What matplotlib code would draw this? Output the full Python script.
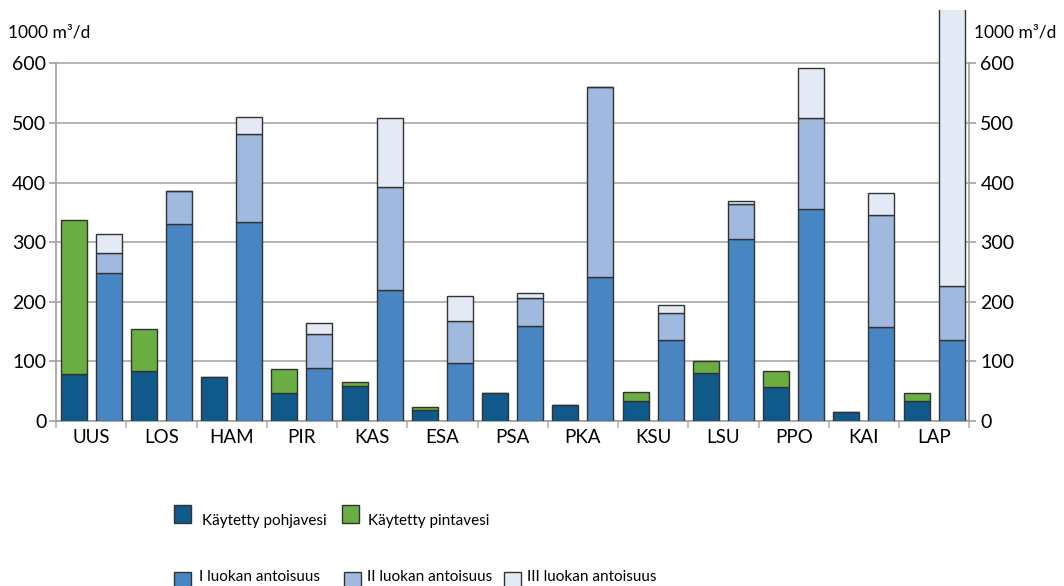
import matplotlib
matplotlib.use("Agg")
import matplotlib.pyplot as plt
from matplotlib.patches import Rectangle
import numpy as np

plt.rcParams['font.family'] = ['Lato', 'DejaVu Sans']

# Water use and groundwater yield by region, 1000 m3/d
alueet = ['UUS', 'LOS', 'HAM', 'PIR', 'KAS', 'ESA', 'PSA', 'PKA', 'KSU', 'LSU', 'PPO', 'KAI', 'LAP']
pohjavesi = [79, 84, 73, 47, 59, 18, 47, 26, 33, 81, 57, 15, 33]
pintavesi = [258, 70, 0, 41, 6, 5, 0, 0, 16, 20, 27, 0, 14]
luokka_1 = [248, 330, 333, 89, 220, 97, 159, 241, 136, 306, 356, 157, 136]
luokka_2 = [34, 55, 148, 57, 172, 70, 47, 319, 45, 58, 152, 189, 90]
luokka_3 = [32, 0, 29, 19, 116, 43, 8, 0, 13, 5, 84, 37, 500]
y_ticks = [0, 100, 200, 300, 400, 500, 600]

c_pohja = '#0f5a8b'
c_pinta = '#69ad43'
c_l1 = '#4886c3'
c_l2 = '#a0b9de'
c_l3 = '#e3e9f5'
edge = '#333333'

W, H = 1064, 586
fig = plt.figure(figsize=(W / 100, H / 100), dpi=100)
ax = fig.add_axes([56 / W, (H - 421) / H, (969.3 - 56) / W, (421 - 10.2) / H])

x = np.arange(len(alueet))
bw = 0.37
xl = x + 0.25
xr = x + 0.75
kw = dict(width=bw, edgecolor=edge, linewidth=1.0, zorder=3)

pohja = np.array(pohjavesi)
ax.bar(xl, pohja, color=c_pohja, **kw)
ax.bar(xl, pintavesi, bottom=pohja, color=c_pinta, **kw)

l1 = np.array(luokka_1)
l2 = np.array(luokka_2)
ax.bar(xr, l1, color=c_l1, **kw)
ax.bar(xr, l2, bottom=l1, color=c_l2, **kw)
ax.bar(xr, luokka_3, bottom=l1 + l2, color=c_l3, **kw)

ax.set_xlim(0, len(alueet))
ax.set_ylim(0, 689)
ax.set_yticks(y_ticks)
ax.yaxis.grid(True, color='#b4b4b4', linewidth=1.4, zorder=0)
ax.set_axisbelow(True)

for s in ['top', 'right']:
    ax.spines[s].set_visible(False)
ax.spines['left'].set_bounds(0, 600)
ax.spines['left'].set_color('#a0a0a0')
ax.spines['bottom'].set_color('#a0a0a0')
ax.spines['left'].set_linewidth(1.2)
ax.spines['bottom'].set_linewidth(1.2)

ax.set_xticks(np.arange(len(alueet) + 1))
ax.set_xticklabels([])
ax.set_xticks(x + 0.5, minor=True)
ax.set_xticklabels(alueet, minor=True, fontsize=13.5)
ax.tick_params(axis='x', which='major', length=5, color='#b4b4b4', width=1.2)
ax.tick_params(axis='x', which='minor', length=0, pad=6)
ax.tick_params(axis='y', length=5, color='#a0a0a0', width=1.2, labelsize=14, pad=2)

ax2 = ax.twinx()
ax2.set_ylim(ax.get_ylim())
ax2.set_yticks(y_ticks)
for s in ['top', 'left', 'bottom']:
    ax2.spines[s].set_visible(False)
ax2.spines['right'].set_bounds(0, 600)
ax2.spines['right'].set_color('#a0a0a0')
ax2.spines['right'].set_linewidth(1.2)
ax2.tick_params(axis='y', length=5, color='#a0a0a0', width=1.2, labelsize=14, pad=3)

fig.text(8 / W, 1 - 32 / H, '1000 m³/d', fontsize=12.5, va='center', ha='left')
fig.text(974 / W, 1 - 32 / H, '1000 m³/d', fontsize=12.5, va='center', ha='left')

# legend: (square left, label, colour, text left) per entry
legend_rows = [
    [(174, 'Käytetty pohjavesi', c_pohja, 202), (342, 'Käytetty pintavesi', c_pinta, 368)],
    [(174, 'I luokan antoisuus', c_l1, 199), (344, 'II luokan antoisuus', c_l2, 367),
     (504, 'III luokan antoisuus', c_l3, 527)],
]
square_top = [505, 572]
text_base = [524.5, 581]
for row, st, tb in zip(legend_rows, square_top, text_base):
    for xs, label, col, xt in row:
        fig.patches.append(Rectangle((xs / W, 1 - (st + 18) / H), 17 / W, 18 / H,
                                     transform=fig.transFigure, facecolor=col,
                                     edgecolor=edge, linewidth=1.0))
        fig.text(xt / W, 1 - tb / H, label, fontsize=11, va='baseline', ha='left')

fig.savefig('out.png', dpi=100)
